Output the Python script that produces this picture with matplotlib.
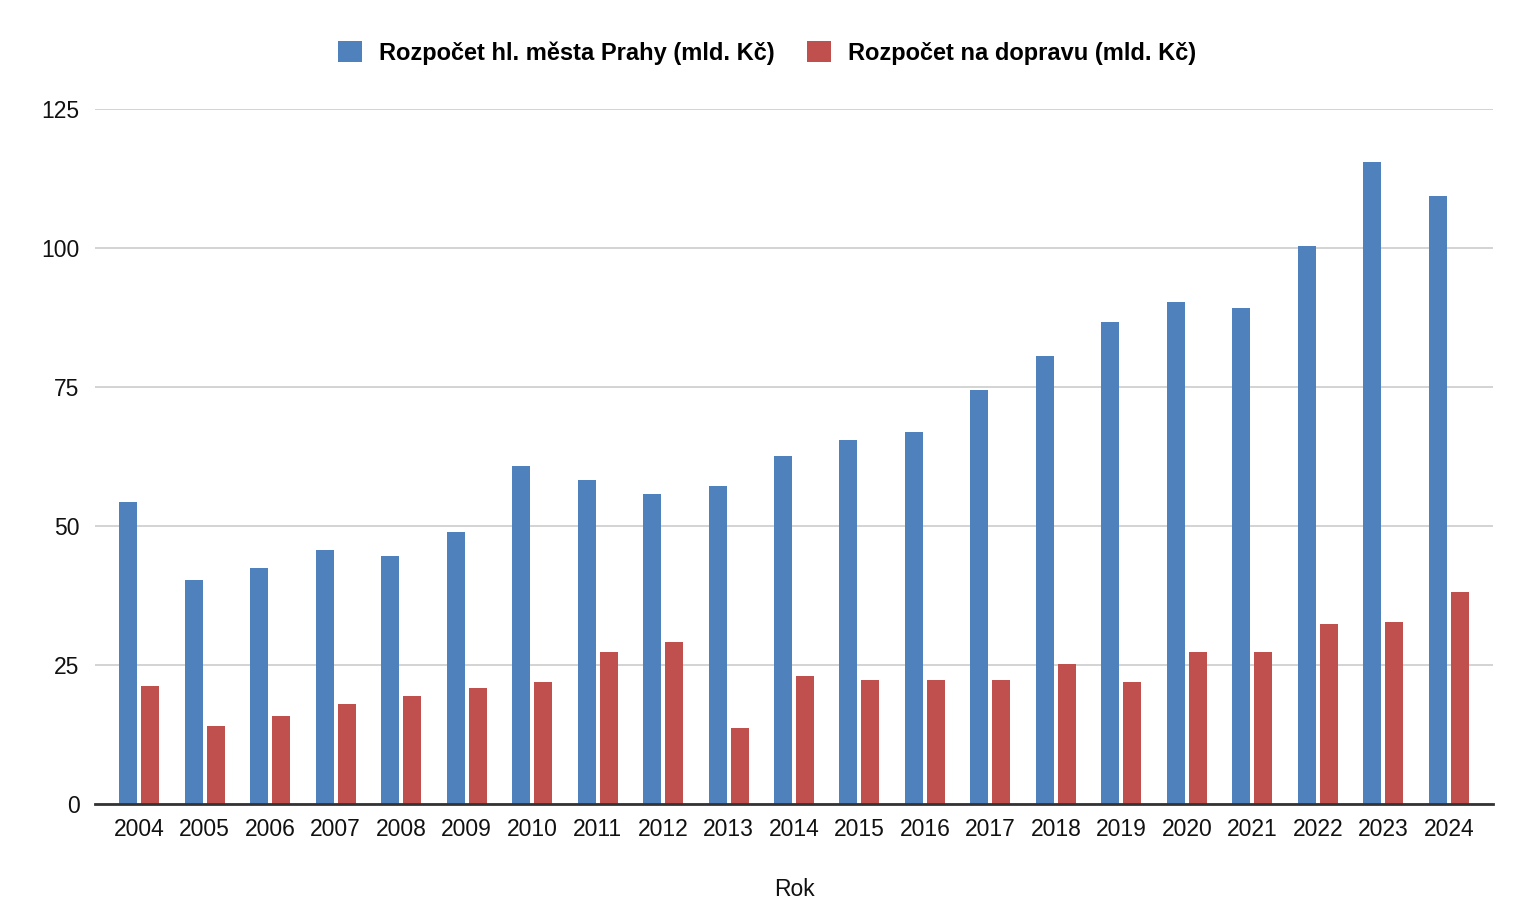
import numpy as np
import matplotlib.pyplot as plt

plt.rcParams['font.family'] = ['Liberation Sans', 'DejaVu Sans']

roky = [str(r) for r in range(2004, 2025)]
rozpocet_praha = [54.3, 40.3, 42.4, 45.7, 44.6, 48.9, 60.8, 58.3, 55.8, 57.2, 62.6,
                  65.5, 66.9, 74.5, 80.6, 86.7, 90.3, 89.2, 100.4, 115.5, 109.4]
rozpocet_doprava = [21.2, 14.0, 15.8, 18.0, 19.4, 20.9, 21.9, 27.3, 29.1, 13.7, 23.0,
                    22.3, 22.3, 22.3, 25.2, 21.9, 27.3, 27.3, 32.4, 32.7, 38.1]

fig = plt.figure(figsize=(15.34, 9.08), dpi=100)
ax = fig.add_axes([95 / 1534, 104 / 908, 1398 / 1534, 695 / 908])

x = np.arange(len(roky))
w = 0.275
ax.bar(x - 0.168, rozpocet_praha, w, color='#4f81bd', label='Rozpočet hl. města Prahy (mld. Kč)', zorder=3)
ax.bar(x + 0.168, rozpocet_doprava, w, color='#c0504d', label='Rozpočet na dopravu (mld. Kč)', zorder=3)

ax.set_xlim(-0.676, len(roky) - 1 + 0.676)
ax.set_ylim(0, 125)
ax.set_yticks([0, 25, 50, 75, 100, 125])
ax.set_xticks(x)
ax.set_xticklabels(roky)
ax.grid(axis='y', color='#cccccc', linewidth=1.2, zorder=0)
for s in ['top', 'right', 'left']:
    ax.spines[s].set_visible(False)
ax.spines['bottom'].set_color('#333333')
ax.spines['bottom'].set_linewidth(2)
ax.spines['bottom'].set_zorder(4)
ax.tick_params(axis='both', length=0, labelsize=16.5, colors='#111111')
ax.tick_params(axis='y', pad=11)
ax.tick_params(axis='x', pad=10)
ax.set_xlabel('Rok', fontsize=16.5, labelpad=27, color='#111111')

fig.legend(loc='center', bbox_to_anchor=(0.5, 1 - 53 / 908), ncol=2, frameon=False,
           prop={'weight': 'bold', 'size': 17}, handlelength=1.0, handleheight=1.0,
           handletextpad=0.72, columnspacing=1.4)

plt.savefig('out.png', dpi=100)
